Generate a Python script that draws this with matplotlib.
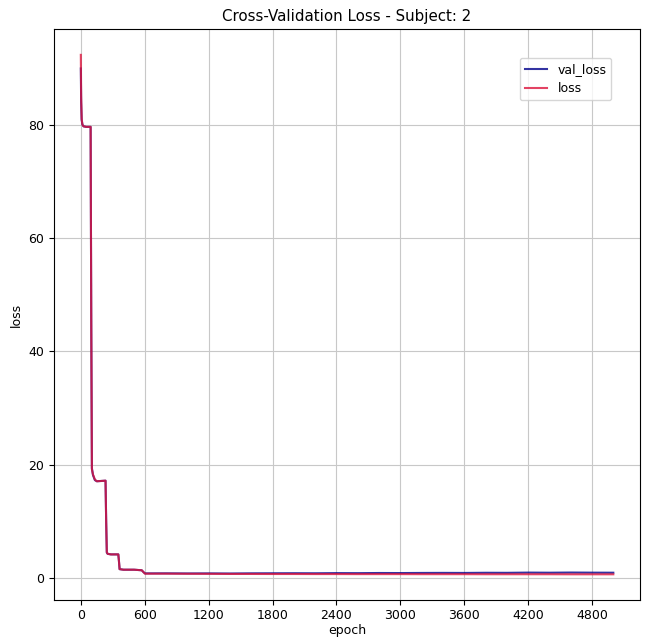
import numpy as np
import matplotlib.pyplot as plt

# epochs where the curves change
epochs = [0, 3, 8, 15, 25, 50, 92, 98, 104, 114, 132, 150, 232, 238, 244, 252, 282,
          352, 358, 364, 400, 500, 572, 587, 602, 800, 1000, 1200, 1400, 1600, 1800,
          2000, 2200, 2400, 2600, 2800, 3000, 3200, 3400, 3600, 3800, 4000, 4200,
          4400, 4600, 4800, 4999]

loss = [92.3, 85.0, 81.0, 80.0, 79.7, 79.6, 79.6, 45.0, 19.2, 18.3, 17.4, 17.1, 17.2,
        10.0, 4.6, 4.3, 4.2, 4.2, 3.0, 1.6, 1.5, 1.5, 1.4, 1.1, 0.8, 0.8, 0.78, 0.77,
        0.75, 0.75, 0.74, 0.74, 0.73, 0.73, 0.72, 0.72, 0.72, 0.71, 0.71, 0.71, 0.70,
        0.70, 0.70, 0.70, 0.69, 0.69, 0.69]

val_loss = [89.9, 84.0, 80.8, 80.0, 79.7, 79.6, 79.6, 45.0, 19.4, 18.2, 17.3, 17.1, 17.2,
            10.0, 4.5, 4.3, 4.2, 4.2, 3.0, 1.6, 1.5, 1.5, 1.4, 1.1, 0.85, 0.86, 0.84,
            0.85, 0.83, 0.86, 0.87, 0.88, 0.87, 0.90, 0.89, 0.92, 0.91, 0.93, 0.94,
            0.93, 0.96, 0.95, 0.99, 0.97, 1.0, 0.98, 0.97]

plt.rcParams['font.size'] = 9
plt.rcParams['grid.color'] = '#c8c8c8'

fig, ax = plt.subplots(figsize=(6.53, 6.42), dpi=100)
fig.subplots_adjust(left=0.083, right=0.98, top=0.955, bottom=0.065)

ax.plot(epochs, val_loss, color='darkblue', alpha=0.8, linewidth=1.5, label='val_loss')
ax.plot(epochs, loss, color='crimson', alpha=0.8, linewidth=1.5, label='loss')

ax.set_xticks(np.arange(0, 5000, 600))
ax.set_yticks([0, 20, 40, 60, 80])
ax.tick_params(axis='x', pad=2.5)
ax.grid(True)
ax.set_title('Cross-Validation Loss - Subject: 2', fontsize=10.8)
ax.set_xlabel('epoch', labelpad=2)
ax.set_ylabel('loss')
ax.legend(loc='upper right', bbox_to_anchor=(0.962, 0.96), handlelength=1.8)

plt.savefig('out.png')
